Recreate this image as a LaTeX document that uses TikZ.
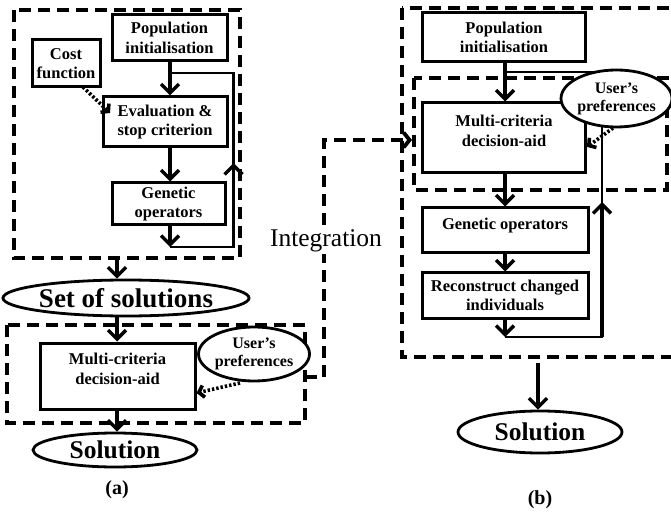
\documentclass[tikz,border=0pt]{standalone}
\usepackage{fontspec}
\setmainfont{Liberation Serif}
\usetikzlibrary{arrows.meta,shapes.geometric}
\newcommand{\boxfont}{\fontsize{16.5}{19.5}\selectfont\bfseries}
\newcommand{\ovalfont}{\fontsize{16}{18}\selectfont\bfseries}
\tikzset{
  box/.style={draw, line width=3pt, inner sep=0pt, align=center, font=\boxfont, fill=white},
  oval/.style={draw, ellipse, line width=2.8pt, inner sep=0pt, align=center, fill=white},
  dbox/.style={line width=3.8pt, dash pattern=on 12pt off 7pt},
  arr/.style={line width=3.4pt, -{Straight Barb[length=9pt,width=18pt]}},
  loopline/.style={line width=2.6pt},
  dotarr/.style={line width=3.6pt, dash pattern=on 2.4pt off 2pt, -{Straight Barb[length=5pt,width=12pt]}},
  dasharr/.style={line width=3.8pt, dash pattern=on 12pt off 7pt, -{Straight Barb[length=6pt,width=15pt]}},
}
\begin{document}
\begin{tikzpicture}[x=1pt,y=-1pt]
\useasboundingbox (0,0) rectangle (671,518);

% ---------- (a) classical GA followed by decision aid ----------
\draw[dbox] (14,10) rectangle (240,258);
\node[box, minimum width=115pt, minimum height=46pt] (popA) at (169.5,38) {Population\\initialisation};
\node[box, minimum width=68pt, minimum height=47pt] (costA) at (66,63.5) {Cost\\function};
\node[box, minimum width=124pt, minimum height=50pt] (evalA) at (165,122) {Evaluation \&\\stop criterion};
\node[box, minimum width=113pt, minimum height=42pt] (genA) at (168.5,204) {Genetic\\operators};
\coordinate (loopA1) at (170,247);
\coordinate (loopA2) at (233.5,247);
\coordinate (loopA3) at (233.5,73);
\coordinate (loopA4) at (170,73);
\coordinate (tipA) at (233.5,163);
\draw[arr] (loopA4 |- popA.south) -- (loopA4 |- evalA.north);
\draw[arr] (loopA4 |- evalA.south) -- (loopA4 |- genA.north);
\draw[arr] (loopA4 |- genA.south) -- (loopA1);
\draw[loopline] (loopA1) -- (loopA2) -- (loopA3) -- (loopA4);
\draw[arr] (loopA2) -- (tipA);
\coordinate (costOut) at (83,87);
\coordinate (evalIn) at (110,113);
\draw[dotarr] (costOut) -- (evalIn);

\coordinate (outA) at (117,258);
\node[oval, minimum width=208pt, minimum height=36pt, font=\fontsize{27}{30}\selectfont\bfseries] (setsol) at (126,298) {Set of solutions};
\draw[arr] (outA) -- (outA |- setsol.north);

\draw[dbox] (7,325) rectangle (305,423);
\node[box, minimum width=155pt, minimum height=66pt, text depth=14pt] (mcdaA) at (117.5,376) {Multi-criteria\\decision-aid};
\draw[arr] (setsol.south -| outA) -- (mcdaA.north -| outA);
\node[oval, minimum width=102pt, minimum height=54pt, font=\ovalfont] (userA) at (254,354) {User's\\preferences};
\coordinate (userAout) at (240,383);
\draw[dotarr] (userAout) -- (mcdaA.east |- 0,393);
\node[oval, minimum width=164pt, minimum height=34pt, font=\fontsize{25.5}{30}\selectfont\bfseries] (solA) at (115,450) {Solution};
\draw[arr] (mcdaA.south -| outA) -- (solA.north -| outA);
\node[font=\fontsize{20}{24}\selectfont\bfseries] (labA) at (117,490) {(a)};

% ---------- integration link ----------
\coordinate (intA) at (305,377);
\coordinate (intB) at (324,377);
\coordinate (intC) at (324,140);
\coordinate (intD) at (412,140);
\draw[dasharr] (intA) -- (intB) -- (intC) -- (intD);
\node[font=\fontsize{25.5}{30}\selectfont, anchor=base, fill=white, inner sep=1pt] (integ) at (326,247) {Integration};

% ---------- (b) decision aid inside the GA loop ----------
\draw[dbox] (402,8) rectangle (690,357);
\node[box, minimum width=163pt, minimum height=49pt] (popB) at (504,37.5) {Population\\initialisation};
\node[box, minimum width=163pt, minimum height=70pt, text depth=14pt] (mcdaB) at (504,138) {Multi-criteria\\decision-aid};
\node[box, minimum width=166pt, minimum height=45pt, text depth=13pt] (genB) at (505,230.5) {Genetic operators};
\node[box, minimum width=166pt, minimum height=45pt] (reconB) at (505,295.5) {Reconstruct changed\\individuals};
\coordinate (loopB1) at (505,337);
\coordinate (loopB2) at (602,337);
\coordinate (loopB3) at (602,72);
\coordinate (loopB4) at (505,72);
\coordinate (tipB) at (602,202);
\draw[loopline] (loopB1) -- (loopB2) -- (loopB3) -- (loopB4);
\draw[dbox] (414,78) rectangle (667,190);
\draw[arr] (popB.south -| loopB4) -- (mcdaB.north -| loopB4);
\draw[arr] (mcdaB.south -| loopB1) -- (genB.north -| loopB1);
\draw[arr] (genB.south -| loopB1) -- (reconB.north -| loopB1);
\draw[arr] (reconB.south -| loopB1) -- (loopB1);
\draw[arr] (loopB2) -- (tipB);
\node[oval, minimum width=93pt, minimum height=57pt, font=\ovalfont] (userB) at (616.5,98.5) {User's\\preferences};
\coordinate (userBout) at (613,128);
\draw[dotarr] (userBout) -- (mcdaB.east |- 0,147);

\coordinate (outB) at (538,363);
\node[oval, minimum width=164pt, minimum height=42pt, font=\fontsize{25.5}{30}\selectfont\bfseries] (solB) at (540,432) {Solution};
\draw[arr] (outB) -- (outB |- solB.north);
\node[font=\fontsize{20}{24}\selectfont\bfseries] (labB) at (540,500) {(b)};
\end{tikzpicture}
\end{document}
